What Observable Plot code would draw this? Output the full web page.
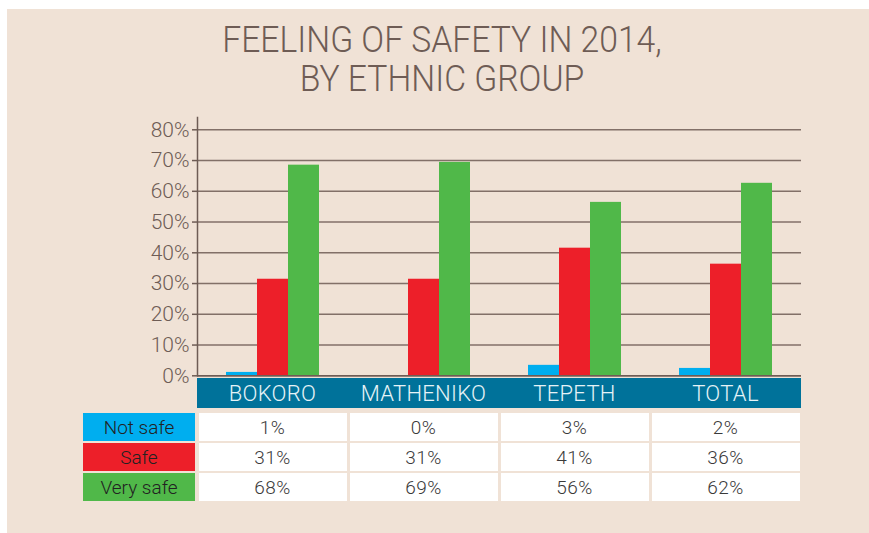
<!DOCTYPE html>
<html>
<head>
<meta charset="utf-8">
<script src="https://cdn.jsdelivr.net/npm/d3@7"></script>
<script src="https://cdn.jsdelivr.net/npm/@observablehq/plot@0.6"></script>
<style>
  html, body { margin: 0; padding: 0; background: #ffffff; }
  #page { position: relative; width: 869px; height: 533px; overflow: hidden; background: #ffffff; font-family: "Liberation Sans", Arial, sans-serif; }
  #panel { position: absolute; left: 7px; top: 9px; width: 862px; height: 524px; background: #f0e2d6; }
  #title { position: absolute; left: 15px; width: 854px; top: 20px; text-align: center; font-family: Roboto, "Liberation Sans", sans-serif; font-weight: 300; font-size: 37px; line-height: 39px; color: #6e5c55; transform: scaleX(0.91); transform-origin: 427px 0; }
  #chart { position: absolute; left: 0; top: 110px; }
  #chart svg { overflow: visible; }
  .hdr { position: absolute; top: 378px; height: 30px; background: #00729a; }
  .hdrlab { position: absolute; top: 378px; height: 30px; line-height: 32px; text-align: center; color: #e6f3f7; font-size: 22px; letter-spacing: 0.3px; font-family: Roboto, "Liberation Sans", sans-serif; font-weight: 300; }
  .lab { position: absolute; height: 28px; line-height: 29px; text-align: center; font-size: 19px; color: #222; font-family: Roboto, "Liberation Sans", sans-serif; font-weight: 300; }
  .cell { position: absolute; height: 28px; line-height: 29px; text-align: center; font-size: 19px; color: #3a3a3a; background: #ffffff; letter-spacing: 0.5px; font-family: Roboto, "Liberation Sans", sans-serif; font-weight: 300; }
</style>
</head>
<body>
<div id="page">
  <div id="panel"></div>
  <div id="title">FEELING OF SAFETY IN 2014,<br>BY ETHNIC GROUP</div>
  <div id="chart"></div>
</div>
<script>
// ---- data ----
const groups = ["BOKORO", "MATHENIKO", "TEPETH", "TOTAL"];
const series = ["Not safe", "Safe", "Very safe"];
const notSafe = [1.1, 0, 3.4, 2.4];
const safe = [31.4, 31.4, 41.5, 36.3];
const verySafe = [68.5, 69.4, 56.4, 62.6];
const notSafeLabels = ["1%", "0%", "3%", "2%"];
const safeLabels = ["31%", "31%", "41%", "36%"];
const verySafeLabels = ["68%", "69%", "56%", "62%"];
const yTicks = [0, 10, 20, 30, 40, 50, 60, 70, 80];
const colors = ["#00aeef", "#ed1f29", "#50b849"];

// ---- build rows ----
const rows = [];
[notSafe, safe, verySafe].forEach((vals, i) =>
  vals.forEach((v, j) => rows.push({group: groups[j], series: series[i], value: v / 100}))
);

const plot = Plot.plot({
  width: 869,
  height: 266,
  marginTop: 7,
  marginBottom: 0.7,
  marginLeft: 197,
  marginRight: 68,
  style: {background: "transparent", fontFamily: "Roboto, 'Liberation Sans', Arial, sans-serif", fontWeight: 300, overflow: "visible"},
  fx: {domain: groups, padding: 0, axis: null},
  x: {domain: series, paddingInner: 0, paddingOuter: 0.93, axis: null},
  y: {domain: [0, 0.84], axis: null},
  color: {domain: series, range: colors},
  marks: [
    Plot.gridY(yTicks.map(d => d / 100), {stroke: "#6e5c55", strokeOpacity: 0.85, strokeWidth: 1.5}),
    Plot.barY(rows, {fx: "group", x: "series", y: "value", fill: "series"}),
    Plot.ruleY([0], {stroke: "#6e5c55", strokeWidth: 1.5}),
    Plot.frame({anchor: "left", stroke: "#6e5c55", strokeWidth: 1.5, facetAnchor: "left"}),
    Plot.axisY(yTicks.map(d => d / 100), {
      anchor: "left",
      label: null,
      tickFormat: d => `${Math.round(d * 100)}%`,
      tickSize: 5,
      tickPadding: 3,
      fontSize: 21,
      color: "#6e5c55",
      strokeWidth: 1.5
    })
  ]
});
document.getElementById("chart").appendChild(plot);

// ---- header band & table (HTML), aligned with the plot's fx columns ----
const page = document.getElementById("page");
const colLeft = 197, colW = 151;
const hdr = document.createElement("div");
hdr.className = "hdr";
hdr.style.left = colLeft + "px";
hdr.style.width = (colW * groups.length) + "px";
page.appendChild(hdr);
groups.forEach((g, j) => {
  const d = document.createElement("div");
  d.className = "hdrlab";
  d.style.left = (colLeft + j * colW) + "px";
  d.style.width = colW + "px";
  d.textContent = g;
  page.appendChild(d);
});
const tableLabels = [notSafeLabels, safeLabels, verySafeLabels];
series.forEach((s, i) => {
  const top = 413 + i * 30;
  const l = document.createElement("div");
  l.className = "lab";
  l.style.left = "83px";
  l.style.width = "112px";
  l.style.top = top + "px";
  l.style.background = colors[i];
  l.textContent = s;
  page.appendChild(l);
  tableLabels[i].forEach((t, j) => {
    const c = document.createElement("div");
    c.className = "cell";
    c.style.left = (colLeft + j * colW + 1.5) + "px";
    c.style.width = (colW - 3) + "px";
    c.style.top = top + "px";
    c.textContent = t;
    page.appendChild(c);
  });
});
</script>
</body>
</html>
